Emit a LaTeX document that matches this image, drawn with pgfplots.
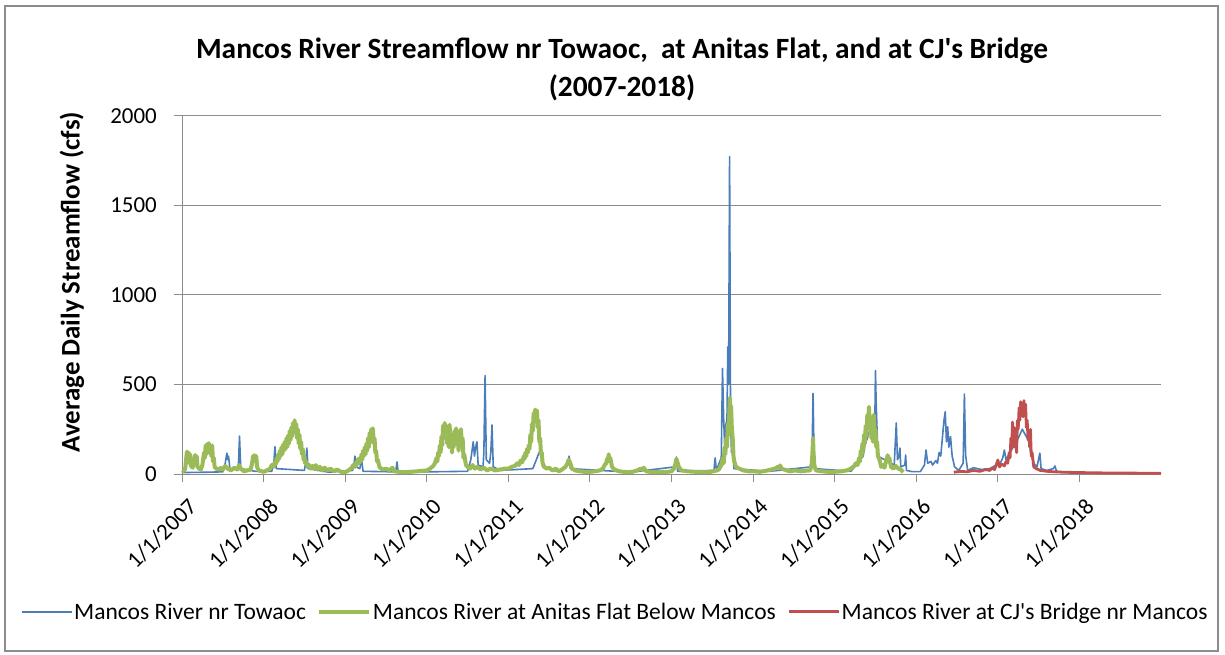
\documentclass[border=0pt]{standalone}
\usepackage{pgfplots}
\pgfplotsset{compat=1.18}
\usepackage{fontspec}
\setmainfont{Carlito}
\newfontfamily\plainfont{Carlito}
\definecolor{xblue}{HTML}{4A7EBB}
\definecolor{xgreen}{HTML}{9BBB59}
\definecolor{xred}{HTML}{C0504D}
\definecolor{xgrid}{HTML}{8C8C8C}
\begin{document}
\begin{tikzpicture}
\useasboundingbox (0,0) rectangle (1225bp,655bp);
\draw[xgrid, line width=1.2bp] (5bp,4bp) rectangle (1218bp,649bp);
\node[font=\fontsize{29.5}{32}\selectfont\bfseries] at (622bp,604bp) {Mancos River Streamflow nr Towaoc, \ at Anitas Flat, and at CJ{\plainfont'}s Bridge};
\node[font=\fontsize{29.5}{32}\selectfont\bfseries] at (622bp,567bp) {(2007-2018)};
\node[font=\fontsize{27}{30}\selectfont\bfseries, rotate=90] at (72bp,373bp) {Average Daily Streamflow (cfs)};
\begin{axis}[
  at={(182bp,181bp)}, anchor=south west,
  scale only axis, width=979bp, height=358bp,
  xmin=2007, xmax=2019, ymin=0, ymax=2000,
  xtick={2007,...,2018},
  xticklabels={1/1/2007,1/1/2008,1/1/2009,1/1/2010,1/1/2011,1/1/2012,1/1/2013,1/1/2014,1/1/2015,1/1/2016,1/1/2017,1/1/2018},
  ytick={0,500,1000,1500,2000},
  /pgf/number format/assume math mode=true,
  /pgf/number format/1000 sep={},
  axis x line*=bottom, axis y line*=left,
  axis line style={xgrid, line width=1bp, -},
  tick align=outside, major tick length=8bp,
  tick style={xgrid, line width=1bp},
  ymajorgrids, grid style={xgrid, line width=1bp},
  ticklabel style={font=\fontsize{23}{25}\selectfont},
  xticklabel style={rotate=45, anchor=north east, inner sep=1pt, xshift=-6bp, yshift=-12.7bp},
  yticklabel style={inner sep=2pt, xshift=-15bp},
  clip=false,
  legend columns=3,
  legend style={at={(0.4423,-0.385)}, anchor=center, draw=none, fill=none,
    font=\fontsize{23.6}{26}\selectfont, inner sep=0pt,
    nodes={inner sep=1.5bp},
    /tikz/every odd column/.append style={column sep=0bp},
    /tikz/every even column/.append style={column sep=10bp}},
  legend image code/.code={\draw[#1] (0bp,0bp) -- (50bp,0bp);},
  line join=round,
]
\addplot[xblue, line width=1.6bp] coordinates {
(2007.00,8)(2007.30,10)(2007.50,12)(2007.53,60)(2007.55,117)(2007.56,80)(2007.57,100)(2007.59,20)(2007.69,30)(2007.705,212)(2007.72,30)(2007.90,15)
(2008.10,15)(2008.125,60)(2008.14,152)(2008.155,30)(2008.50,20)(2008.515,60)(2008.53,145)(2008.545,30)(2008.80,10)(2009.09,20)(2009.11,60)(2009.12,100)
(2009.135,40)(2009.18,30)(2009.20,84)(2009.22,15)(2009.62,12)(2009.635,67)(2009.65,10)(2010.00,12)(2010.50,15)(2010.54,80)(2010.555,130)(2010.57,180)
(2010.585,100)(2010.60,150)(2010.615,180)(2010.63,50)(2010.69,40)(2010.70,120)(2010.715,550)(2010.73,80)(2010.77,60)(2010.785,120)(2010.80,274)(2010.815,40)
(2010.90,20)(2011.30,30)(2011.39,134)(2011.42,40)(2011.60,15)(2011.73,50)(2011.745,100)(2011.76,30)(2012.50,10)(2013.045,40)(2013.06,95)(2013.075,15)
(2013.52,20)(2013.535,90)(2013.55,20)(2013.61,90)(2013.625,590)(2013.64,300)(2013.655,120)(2013.665,274)(2013.68,300)(2013.69,710)(2013.70,500)(2013.712,1773)
(2013.724,300)(2013.735,120)(2013.75,152)(2013.765,30)(2014.20,15)(2014.72,40)(2014.735,450)(2014.75,30)(2015.20,15)(2015.35,100)(2015.37,162)(2015.40,200)
(2015.47,300)(2015.49,200)(2015.50,577)(2015.51,376)(2015.53,100)(2015.73,50)(2015.755,285)(2015.77,80)(2015.79,100)(2015.80,145)(2015.81,40)(2015.86,50)
(2015.87,106)(2015.88,20)(2015.95,13)(2016.05,13)(2016.10,50)(2016.12,134)(2016.14,60)(2016.18,70)(2016.20,50)(2016.24,75)(2016.26,60)(2016.28,120)
(2016.30,100)(2016.32,200)(2016.34,300)(2016.355,348)(2016.37,180)(2016.385,264)(2016.40,150)(2016.42,209)(2016.44,100)(2016.47,40)(2016.52,20)(2016.575,60)
(2016.59,447)(2016.605,106)(2016.63,20)(2016.70,35)(2016.80,25)(2016.90,30)(2016.98,50)(2017.03,60)(2017.06,90)(2017.08,134)(2017.10,80)(2017.15,120)
(2017.25,200)(2017.30,250)(2017.36,200)(2017.38,246)(2017.40,120)(2017.44,60)(2017.48,40)(2017.515,117)(2017.53,30)(2017.60,20)(2017.68,30)(2017.70,45)
(2017.72,15)(2017.85,8)(2018.00,8)
};
\addlegendentry{Mancos River nr Towaoc}
\addplot[xgreen, line width=4bp] coordinates {
(2007.00,20)(2007.02,15)(2007.04,30)(2007.05,80)(2007.06,125)(2007.07,90)(2007.08,120)(2007.09,60)(2007.10,110)(2007.11,45)(2007.13,35)(2007.15,70)
(2007.16,106)(2007.17,60)(2007.18,100)(2007.19,40)(2007.21,30)(2007.23,25)(2007.25,50)(2007.27,120)(2007.28,90)(2007.29,160)(2007.30,110)(2007.31,168)
(2007.32,130)(2007.33,172)(2007.34,120)(2007.35,150)(2007.36,100)(2007.37,160)(2007.38,70)(2007.39,90)(2007.40,40)(2007.42,30)(2007.45,25)(2007.48,35)
(2007.50,25)(2007.53,45)(2007.56,30)(2007.60,20)(2007.64,35)(2007.68,25)(2007.70,50)(2007.72,30)(2007.76,15)(2007.80,20)(2007.84,25)(2007.86,60)
(2007.87,100)(2007.88,80)(2007.89,105)(2007.90,90)(2007.91,100)(2007.92,40)(2007.94,20)(2007.98,15)
(2008.00,12)(2008.04,20)(2008.08,30)(2008.10,50)(2008.12,40)(2008.14,70)(2008.15,55)(2008.16,90)(2008.17,70)(2008.18,110)(2008.19,85)(2008.20,130)
(2008.21,100)(2008.22,150)(2008.23,110)(2008.24,165)(2008.25,130)(2008.26,180)(2008.27,140)(2008.28,200)(2008.29,150)(2008.30,215)(2008.31,170)(2008.32,240)
(2008.33,190)(2008.34,260)(2008.35,210)(2008.36,285)(2008.37,230)(2008.38,300)(2008.39,240)(2008.40,280)(2008.41,200)(2008.42,250)(2008.43,170)(2008.44,220)
(2008.45,140)(2008.46,180)(2008.47,110)(2008.48,140)(2008.49,80)(2008.50,100)(2008.51,60)(2008.52,70)(2008.54,40)(2008.56,50)(2008.58,30)(2008.60,45)
(2008.62,30)(2008.64,50)(2008.66,25)(2008.69,40)(2008.72,20)(2008.75,35)(2008.78,20)(2008.82,30)(2008.86,15)(2008.90,25)(2008.95,12)
(2009.00,10)(2009.04,20)(2009.08,35)(2009.10,50)(2009.12,40)(2009.14,70)(2009.15,55)(2009.16,85)(2009.17,60)(2009.18,90)(2009.19,70)(2009.20,110)
(2009.21,80)(2009.22,130)(2009.23,100)(2009.24,150)(2009.25,110)(2009.26,170)(2009.27,130)(2009.28,200)(2009.29,150)(2009.30,230)(2009.31,180)(2009.32,250)
(2009.33,200)(2009.34,255)(2009.35,170)(2009.36,200)(2009.37,120)(2009.38,130)(2009.39,70)(2009.40,80)(2009.42,40)(2009.44,30)(2009.47,25)(2009.50,30)
(2009.54,20)(2009.58,35)(2009.60,15)(2009.66,12)(2009.72,10)(2009.80,12)(2009.88,15)(2009.95,18)
(2010.00,20)(2010.04,30)(2010.08,45)(2010.10,60)(2010.12,90)(2010.13,70)(2010.14,120)(2010.15,100)(2010.16,160)(2010.17,120)(2010.18,210)(2010.19,160)
(2010.20,270)(2010.21,200)(2010.22,285)(2010.23,220)(2010.24,270)(2010.25,170)(2010.26,240)(2010.27,150)(2010.28,275)(2010.29,180)(2010.30,220)(2010.31,120)
(2010.32,190)(2010.33,150)(2010.34,240)(2010.35,180)(2010.36,255)(2010.37,170)(2010.38,200)(2010.39,130)(2010.40,240)(2010.41,180)(2010.42,250)(2010.43,150)
(2010.44,200)(2010.45,90)(2010.46,110)(2010.48,50)(2010.50,40)(2010.53,30)(2010.56,50)(2010.59,30)(2010.62,40)(2010.66,25)(2010.70,35)(2010.74,20)
(2010.78,30)(2010.84,20)(2010.90,25)(2010.96,30)
(2011.00,30)(2011.04,40)(2011.08,45)(2011.11,60)(2011.13,50)(2011.15,75)(2011.17,65)(2011.19,100)(2011.20,85)(2011.21,120)(2011.22,100)(2011.23,140)
(2011.24,120)(2011.25,160)(2011.26,140)(2011.27,220)(2011.28,180)(2011.29,280)(2011.30,240)(2011.31,340)(2011.32,290)(2011.33,360)(2011.34,300)(2011.35,355)
(2011.36,260)(2011.37,300)(2011.38,180)(2011.39,200)(2011.40,110)(2011.41,120)(2011.42,60)(2011.44,40)(2011.47,30)(2011.50,35)(2011.54,20)(2011.58,30)
(2011.62,15)(2011.66,25)(2011.70,40)(2011.72,55)(2011.74,80)(2011.76,60)(2011.78,30)(2011.82,20)(2011.88,15)(2011.94,12)
(2012.00,12)(2012.06,15)(2012.12,20)(2012.16,30)(2012.18,50)(2012.20,60)(2012.21,85)(2012.22,70)(2012.23,110)(2012.24,80)(2012.25,90)(2012.27,40)
(2012.30,25)(2012.36,15)(2012.45,10)(2012.52,12)(2012.58,20)(2012.62,30)(2012.64,25)(2012.66,35)(2012.69,15)(2012.76,10)(2012.84,12)(2012.92,10)
(2013.00,15)(2013.03,30)(2013.05,60)(2013.06,85)(2013.07,70)(2013.09,40)(2013.12,20)(2013.20,15)(2013.30,12)(2013.40,10)(2013.48,12)(2013.54,18)
(2013.58,25)(2013.61,50)(2013.63,90)(2013.64,60)(2013.65,150)(2013.66,110)(2013.67,200)(2013.68,150)(2013.69,280)(2013.70,220)(2013.71,360)(2013.715,425)
(2013.72,350)(2013.73,380)(2013.74,250)(2013.75,200)(2013.76,100)(2013.77,70)(2013.79,40)(2013.83,30)(2013.88,20)(2013.95,15)
(2014.00,15)(2014.08,12)(2014.16,18)(2014.22,25)(2014.27,30)(2014.30,40)(2014.32,35)(2014.33,48)(2014.35,30)(2014.38,25)(2014.45,15)(2014.52,20)
(2014.58,15)(2014.64,18)(2014.70,20)(2014.72,60)(2014.73,140)(2014.735,200)(2014.74,130)(2014.75,50)(2014.77,20)(2014.84,15)(2014.92,12)
(2015.00,12)(2015.08,15)(2015.15,20)(2015.20,30)(2015.24,45)(2015.26,60)(2015.28,50)(2015.30,90)(2015.31,70)(2015.32,130)(2015.33,100)(2015.34,170)
(2015.35,130)(2015.36,220)(2015.37,170)(2015.38,270)(2015.39,210)(2015.40,330)(2015.41,260)(2015.42,375)(2015.43,280)(2015.44,320)(2015.45,200)(2015.46,260)
(2015.47,180)(2015.48,330)(2015.49,230)(2015.50,250)(2015.51,150)(2015.52,180)(2015.53,100)(2015.55,80)(2015.57,40)(2015.59,50)(2015.61,35)(2015.63,70)
(2015.65,105)(2015.66,70)(2015.67,90)(2015.69,40)(2015.72,30)(2015.75,45)(2015.78,30)(2015.81,25)(2015.84,10)
};
\addlegendentry{Mancos River at Anitas Flat Below Mancos}
\addplot[xred, line width=2.8bp] coordinates {
(2016.46,10)(2016.55,15)(2016.62,12)(2016.70,20)(2016.78,15)(2016.85,25)(2016.90,20)(2016.93,33)(2016.96,25)(2016.98,50)(2017.00,78)(2017.02,40)
(2017.05,55)(2017.08,45)(2017.10,70)(2017.12,60)(2017.14,120)(2017.15,90)(2017.16,200)(2017.17,150)(2017.18,290)(2017.19,220)(2017.20,260)(2017.21,150)
(2017.22,180)(2017.23,120)(2017.24,300)(2017.25,250)(2017.26,370)(2017.27,300)(2017.28,404)(2017.29,330)(2017.30,380)(2017.31,320)(2017.32,410)(2017.33,340)
(2017.34,390)(2017.35,260)(2017.36,300)(2017.37,190)(2017.38,230)(2017.39,150)(2017.40,250)(2017.41,100)(2017.42,120)(2017.44,40)(2017.47,30)(2017.52,20)
(2017.60,15)(2017.70,12)(2017.80,10)(2018.00,8)(2018.30,6)(2018.60,5)(2019.00,4)
};
\addlegendentry{Mancos River at CJ{\plainfont'}s Bridge nr Mancos}
\end{axis}
\end{tikzpicture}
\end{document}
